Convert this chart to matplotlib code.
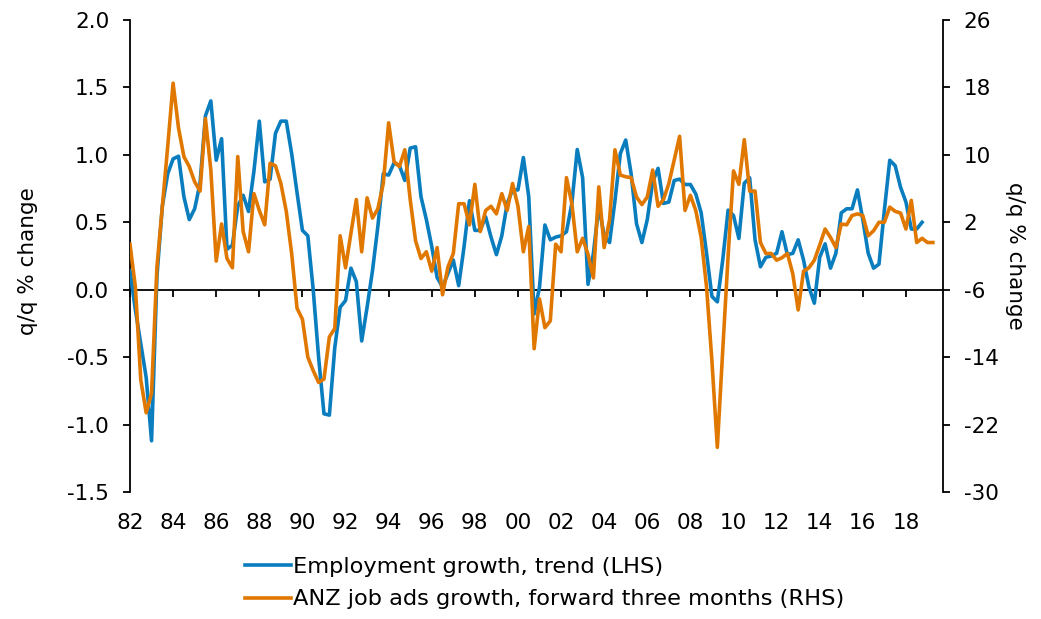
import numpy as np
import pandas as pd
import matplotlib
matplotlib.use("Agg")
import matplotlib.pyplot as plt
from matplotlib.ticker import FixedLocator, FuncFormatter
from matplotlib.lines import Line2D

# Quarterly data
emp_start = "1982Q1"
emp_growth = [
    0.14, -0.15, -0.40, -0.65,
    -1.12, 0.10, 0.62, 0.86,
    0.97, 0.99, 0.69, 0.52,
    0.60, 0.79, 1.29, 1.40,
    0.96, 1.12, 0.30, 0.33,
    0.62, 0.70, 0.58, 0.88,
    1.25, 0.80, 0.82, 1.16,
    1.25, 1.25, 1.01, 0.72,
    0.44, 0.40, 0.00, -0.50,
    -0.92, -0.93, -0.43, -0.13,
    -0.08, 0.16, 0.06, -0.38,
    -0.13, 0.14, 0.47, 0.86,
    0.85, 0.94, 0.92, 0.81,
    1.05, 1.06, 0.69, 0.52,
    0.32, 0.09, 0.02, 0.12,
    0.22, 0.03, 0.32, 0.66,
    0.44, 0.44, 0.54, 0.39,
    0.26, 0.40, 0.64, 0.74,
    0.74, 0.98, 0.69, -0.18,
    0.02, 0.48, 0.37, 0.39,
    0.40, 0.43, 0.64, 1.04,
    0.83, 0.04, 0.27, 0.62,
    0.40, 0.35, 0.66, 1.01,
    1.11, 0.86, 0.49, 0.35,
    0.52, 0.80, 0.90, 0.64,
    0.65, 0.81, 0.82, 0.78,
    0.78, 0.71, 0.57, 0.27,
    -0.05, -0.09, 0.22, 0.59,
    0.55, 0.38, 0.79, 0.83,
    0.37, 0.17, 0.24, 0.25,
    0.27, 0.43, 0.26, 0.27,
    0.37, 0.22, 0.02, -0.10,
    0.24, 0.34, 0.16, 0.27,
    0.57, 0.60, 0.60, 0.74,
    0.52, 0.27, 0.16, 0.19,
    0.59, 0.96, 0.92, 0.76,
    0.65, 0.45, 0.45, 0.50,
]

ads_start = "1982Q1"
job_ads_growth = [
    -0.6, -5.7, -16.7, -20.6,
    -18.3, -3.3, 3.9, 11.0,
    18.5, 13.2, 9.8, 8.6,
    6.8, 5.7, 14.3, 8.2,
    -2.6, 1.8, -2.3, -3.4,
    9.8, 0.9, -1.5, 5.4,
    3.4, 1.7, 9.0, 8.7,
    6.6, 3.3, -1.7, -8.2,
    -9.5, -14.0, -15.6, -17.0,
    -16.6, -11.6, -10.6, 0.4,
    -3.4, 0.7, 4.7, -1.5,
    4.9, 2.5, 3.6, 6.6,
    13.8, 9.2, 8.6, 10.6,
    4.7, -0.2, -2.3, -1.5,
    -3.8, -1.0, -6.6, -3.3,
    -1.7, 4.2, 4.2, 1.7,
    6.5, 0.9, 3.4, 3.9,
    3.0, 5.4, 3.4, 6.6,
    3.9, -1.5, 1.5, -13.0,
    -7.1, -10.5, -9.7, -0.6,
    -1.5, 7.3, 4.2, -1.5,
    0.1, -1.8, -4.6, 6.2,
    -1.0, 2.3, 10.6, 7.6,
    7.4, 7.3, 5.0, 4.1,
    5.0, 8.2, 3.9, 4.7,
    6.6, 9.4, 12.2, 3.4,
    5.2, 3.4, 0.2, -5.7,
    -14.5, -24.7, -13.2, -2.0,
    8.1, 6.5, 11.8, 5.7,
    5.7, -0.4, -1.7, -1.7,
    -2.5, -2.2, -1.7, -4.1,
    -8.4, -3.8, -3.4, -2.5,
    -0.7, 1.2, 0.2, -1.0,
    1.8, 1.7, 2.8, 3.0,
    2.8, 0.4, 1.0, 2.0,
    2.0, 3.8, 3.3, 3.1,
    1.2, 4.6, -0.4, 0.1,
    -0.4, -0.4,
]

year_ticks = list(range(1982, 2019, 2))
left_ticks = [-1.5, -1.0, -0.5, 0.0, 0.5, 1.0, 1.5, 2.0]
right_ticks = [-30, -22, -14, -6, 2, 10, 18, 26]

label_emp = "Employment growth, trend (LHS)"
label_ads = "ANZ job ads growth, forward three months (RHS)"
ylabel = "q/q % change"

BLUE = "#0A7DBE"
ORANGE = "#E07800"

def qpos(start, n):
    p = pd.period_range(start=start, periods=n, freq="Q")
    return p.year + (p.quarter - 1) / 4.0

x_emp = qpos(emp_start, len(emp_growth))
x_ads = qpos(ads_start, len(job_ads_growth))

plt.rcParams['font.family'] = ['DejaVu Sans']
FS = 15.5
LW = 2.6

fig = plt.figure(figsize=(10.41, 6.19), dpi=100)
ax = fig.add_axes([130/1041, 1 - 492/619, (943 - 130)/1041, (492 - 20)/619])
ax2 = ax.twinx()

ax.plot(x_emp, emp_growth, color=BLUE, lw=LW, solid_joinstyle='round', zorder=3)
ax2.plot(x_ads, job_ads_growth, color=ORANGE, lw=LW, solid_joinstyle='round', zorder=3)

ax.set_xlim(1982, 2019.72)
ax.set_ylim(-1.5, 2.0)
ax2.set_ylim(-30, 26)

ax.yaxis.set_major_locator(FixedLocator(left_ticks))
ax.yaxis.set_major_formatter(FuncFormatter(lambda v, p: f"{v:.1f}"))
ax2.yaxis.set_major_locator(FixedLocator(right_ticks))
ax2.yaxis.set_major_formatter(FuncFormatter(lambda v, p: f"{int(v)}"))

for a in (ax, ax2):
    a.spines['top'].set_visible(False)
    for s in a.spines.values():
        s.set_linewidth(1.3)
        s.set_color('#000000')
ax2.spines['left'].set_visible(False)
ax2.spines['bottom'].set_visible(False)
ax.spines['right'].set_visible(False)

ax.spines['bottom'].set_position(('data', 0))
ax.xaxis.set_major_locator(FixedLocator(year_ticks))
ax.tick_params(axis='x', direction='out', length=5, width=1.3, labelbottom=False)

sec = ax.secondary_xaxis('bottom')
sec.spines['bottom'].set_visible(False)
sec.xaxis.set_major_locator(FixedLocator(year_ticks))
sec.xaxis.set_major_formatter(FuncFormatter(lambda v, p: f"{int(round(v)) % 100:02d}"))
sec.tick_params(axis='x', length=0, pad=15, labelsize=FS)

ax.tick_params(axis='y', direction='out', length=5, width=1.3, pad=10, labelsize=FS)
ax2.tick_params(axis='y', direction='out', length=5, width=1.3, pad=10, labelsize=FS)

ax.set_ylabel(ylabel, fontsize=FS)
ax2.set_ylabel(ylabel, fontsize=FS, rotation=270, va='center')
ax.yaxis.set_label_coords(-0.113, 0.49)
ax2.yaxis.set_label_coords(1.089, 0.50)

handles = [Line2D([], [], color=BLUE, lw=LW), Line2D([], [], color=ORANGE, lw=LW)]
fig.legend(handles, [label_emp, label_ads], loc='upper left',
           bbox_to_anchor=(245/1041, 1 - 557/619), frameon=False, fontsize=16.2,
           handlelength=2.05, handletextpad=0.1, labelspacing=0.55,
           borderaxespad=0, borderpad=0)

fig.savefig("out.png", dpi=100)
